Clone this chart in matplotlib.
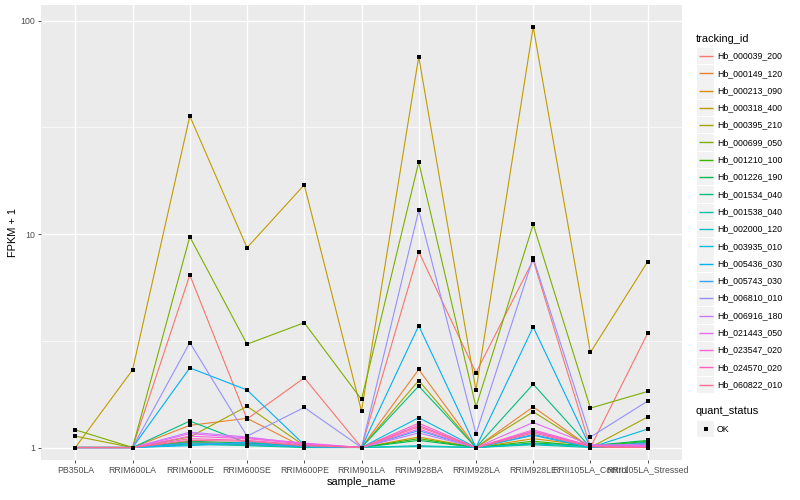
import matplotlib
matplotlib.use("Agg")
import matplotlib.pyplot as plt
from matplotlib.patches import Rectangle
from matplotlib.lines import Line2D
from matplotlib.ticker import FixedLocator, NullFormatter

plt.rcParams['font.family'] = ['Liberation Sans', 'DejaVu Sans']

# data (FPKM + 1)
samples = ["PB350LA", "RRIM600LA", "RRIM600LE", "RRIM600SE", "RRIM600PE",
           "RRIM901LA", "RRIM928BA", "RRIM928LA", "RRIM928LE",
           "RRII105LA_Control", "RRII105LA_Stressed"]

tracking_ids = ["Hb_000039_200", "Hb_000149_120", "Hb_000213_090", "Hb_000318_400",
                "Hb_000395_210", "Hb_000699_050", "Hb_001210_100", "Hb_001226_190",
                "Hb_001534_040", "Hb_001538_040", "Hb_002000_120", "Hb_003935_010",
                "Hb_005436_030", "Hb_005743_030", "Hb_006810_010", "Hb_006916_180",
                "Hb_021443_050", "Hb_023547_020", "Hb_024570_020", "Hb_060822_010"]

# ggplot hue palette for 20 levels
colors = ["#F8766D", "#EA8331", "#D89000", "#C09B00", "#A3A500", "#7CAE00",
          "#39B600", "#00BB4E", "#00BF7D", "#00C1A3", "#00BFC4", "#00BAE0",
          "#00B0F6", "#35A2FF", "#9590FF", "#C77CFF", "#E76BF3", "#FA62DB",
          "#FF62BC", "#FF6C91"]

hb_000039_200 = [1, 1, 6.43, 1.36, 2.12, 1, 8.26, 2.24, 7.55, 1.0, 3.43]
hb_000149_120 = [1, 1, 1.27, 1.37, 1.0, 1, 2.32, 1, 1.55, 1, 1.0]
hb_000213_090 = [1, 1, 1.06, 1.03, 1.01, 1, 1.12, 1, 1.10, 1.02, 1.04]
hb_000318_400 = [1, 2.31, 35.7, 8.63, 17.0, 1.48, 67.8, 1.85, 93.5, 2.79, 7.42]
hb_000395_210 = [1.13, 1, 1.12, 1.56, 1.02, 1, 2.06, 1, 1.47, 1.0, 1.39]
hb_000699_050 = [1.21, 1, 9.71, 3.05, 3.84, 1.68, 21.7, 1.55, 11.1, 1.53, 1.83]
hb_001210_100 = [1, 1, 1.05, 1.04, 1.01, 1, 1.10, 1, 1.07, 1.01, 1.07]
hb_001226_190 = [1, 1, 1.07, 1.05, 1.02, 1, 1.08, 1, 1.05, 1.02, 1.08]
hb_001534_040 = [1, 1, 1.33, 1.05, 1.0, 1, 1.94, 1, 1.98, 1.0, 1.06]
hb_001538_040 = [1, 1, 1.04, 1.02, 1.0, 1, 1.01, 1, 1.03, 1.0, 1.03]
hb_002000_120 = [1, 1, 1.03, 1.03, 1.01, 1, 1.02, 1, 1.04, 1.01, 1.02]
hb_003935_010 = [1, 1, 1.02, 1.06, 1.02, 1, 1.38, 1, 1.14, 1.0, 1.22]
hb_005436_030 = [1, 1, 2.36, 1.86, 1.03, 1, 3.72, 1, 3.67, 1.0, 1.05]
hb_005743_030 = [1, 1, 1.05, 1.04, 1.01, 1, 1.20, 1, 1.15, 1.01, 1.03]
hb_006810_010 = [1, 1, 3.10, 1.13, 1.54, 1, 12.9, 1.16, 7.74, 1.12, 1.65]
hb_006916_180 = [1, 1, 1.18, 1.12, 1.04, 1, 1.17, 1, 1.19, 1.02, 1.04]
hb_021443_050 = [1, 1, 1.16, 1.11, 1.05, 1, 1.22, 1, 1.31, 1.03, 1.02]
hb_023547_020 = [1, 1, 1.13, 1.10, 1.04, 1, 1.27, 1, 1.21, 1.02, 1.01]
hb_024570_020 = [1, 1, 1.10, 1.08, 1.03, 1, 1.30, 1, 1.19, 1.01, 1.0]
hb_060822_010 = [1, 1, 1.08, 1.07, 1.02, 1, 1.25, 1, 1.17, 1.01, 1.0]

series = [hb_000039_200, hb_000149_120, hb_000213_090, hb_000318_400, hb_000395_210,
          hb_000699_050, hb_001210_100, hb_001226_190, hb_001534_040, hb_001538_040,
          hb_002000_120, hb_003935_010, hb_005436_030, hb_005743_030, hb_006810_010,
          hb_006916_180, hb_021443_050, hb_023547_020, hb_024570_020, hb_060822_010]

W, H = 800, 500
fig = plt.figure(figsize=(8, 5), dpi=100)
ax = fig.add_axes([41 / W, 1 - 460 / H, (682 - 41) / W, (460 - 5) / H])
ax.set_facecolor('#EBEBEB')

x = list(range(len(samples)))

# lines first, then the points on top (like geom_line + geom_point)
for vals, col in zip(series, colors):
    ax.plot(x, vals, color=col, lw=0.8, zorder=2)
for vals in series:
    ax.plot(x, vals, 's', color='black', ms=3.0, mew=0, zorder=3)

ax.set_yscale('log')
ax.set_ylim(10 ** -0.0585, 10 ** 2.073)
ax.set_xlim(-0.6, len(samples) - 0.4)
ax.set_yticks([1, 10, 100])
ax.set_yticklabels(['1', '10', '100'])
ax.yaxis.set_minor_locator(FixedLocator([10 ** 0.5, 10 ** 1.5]))
ax.yaxis.set_minor_formatter(NullFormatter())
ax.set_xticks(x)
ax.set_xticklabels(samples)

ax.grid(which='major', color='white', lw=1.0)
ax.grid(which='minor', axis='y', color='white', lw=0.5)
ax.set_axisbelow(True)
for s in ax.spines.values():
    s.set_visible(False)
ax.tick_params(which='major', length=2.5, width=0.6, color='#333333',
               labelsize=6.3, labelcolor='#4D4D4D', pad=1.5)
ax.tick_params(which='minor', length=0)

ax.set_xlabel('sample_name', fontsize=7.9, labelpad=2)
ax.set_ylabel('FPKM + 1', fontsize=7.9, labelpad=2)

# legends, drawn by hand in ggplot style
def fx(px):
    return px / W

def fy(py):
    return 1 - py / H

fig.text(fx(696), fy(39), 'tracking_id', fontsize=7.9, va='center', ha='left')
step = 17.3
for i, (name, col) in enumerate(zip(tracking_ids, colors)):
    yc = 56 + i * step
    fig.add_artist(Rectangle((fx(697), fy(yc + 8.2)), 17 / W, 16.4 / H,
                             transform=fig.transFigure, facecolor='#F2F2F2',
                             edgecolor='none'))
    fig.add_artist(Line2D([fx(698.5), fx(712.5)], [fy(yc), fy(yc)],
                          transform=fig.transFigure, color=col, lw=1.0,
                          snap=True, solid_capstyle='butt'))
    fig.text(fx(717), fy(yc), name, fontsize=6.3, va='center', ha='left')

fig.text(fx(696), fy(411), 'quant_status', fontsize=7.9, va='center', ha='left')
fig.add_artist(Rectangle((fx(697), fy(429 + 8.2)), 17 / W, 16.4 / H,
                         transform=fig.transFigure, facecolor='#F2F2F2',
                         edgecolor='none'))
fig.add_artist(Line2D([fx(705.5)], [fy(429)], transform=fig.transFigure,
                      marker='s', ms=3.0, mew=0, color='black', lw=0))
fig.text(fx(717), fy(429), 'OK', fontsize=6.3, va='center', ha='left')

fig.savefig('out.png', dpi=100)
